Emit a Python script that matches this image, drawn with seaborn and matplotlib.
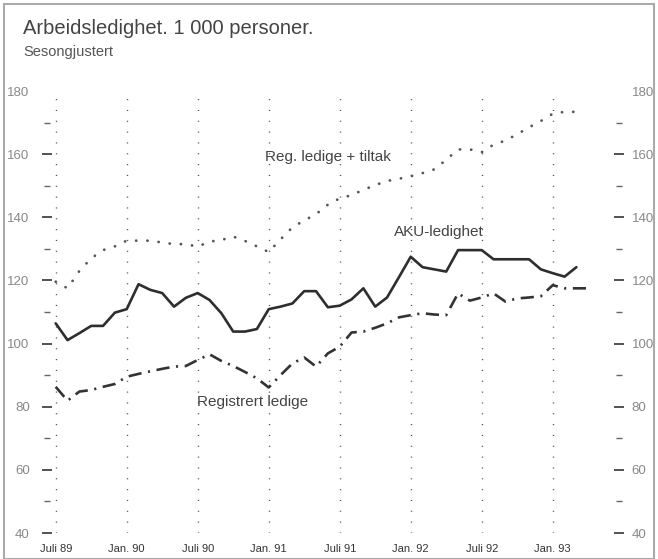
import matplotlib
matplotlib.use("Agg")
import matplotlib.pyplot as plt
import matplotlib.patches as mpatches
import matplotlib.transforms as mtransforms
import seaborn as sns
import pandas as pd
import numpy as np

# ---- data (monthly, from July 1989) ----
aku = [106.4, 101.1, 103.3, 105.6, 105.6, 109.8, 110.9, 118.8, 117.0, 116.0,
       111.7, 114.5, 116.0, 113.8, 109.6, 103.8, 103.8, 104.6, 110.9, 111.7,
       112.7, 116.6, 116.6, 111.5, 112.0, 114.0, 117.5, 111.7, 114.6, 121.0,
       127.5, 124.2, 123.5, 122.8, 129.6, 129.6, 129.6, 126.7, 126.7, 126.7,
       126.7, 123.5, 122.3, 121.2, 124.2]
registrert = [86.3, 81.9, 84.8, 85.3, 86.3, 87.2, 89.5, 90.4, 91.2, 92.0,
              92.7, 92.9, 94.8, 96.6, 94.5, 92.9, 91.0, 89.0, 86.1, 90.0,
              93.7, 95.6, 92.7, 96.9, 99.0, 103.5, 103.8, 105.0, 106.4, 108.3,
              109.0, 109.6, 109.2, 109.0, 115.9, 113.6, 114.6, 115.9, 113.3, 114.3,
              114.6, 115.0, 118.5, 117.5, 117.5, 117.5]
tiltak = [119.6, 117.5, 123.0, 127.0, 129.6, 130.8, 132.6, 132.6, 132.6, 132.0,
          131.5, 131.5, 130.7, 132.3, 132.8, 133.9, 132.5, 130.8, 129.0, 133.0,
          136.8, 139.0, 141.0, 144.0, 146.0, 147.0, 148.7, 150.2, 151.5, 152.2,
          153.0, 154.0, 155.2, 158.2, 161.5, 161.5, 160.6, 163.0, 164.3, 166.3,
          168.5, 170.5, 172.8, 173.4, 173.4]
tick_labels = ["Juli 89", "Jan. 90", "Juli 90", "Jan. 91", "Juli 91",
               "Jan. 92", "Juli 92", "Jan. 93"]
y_ticks = [40, 60, 80, 100, 120, 140, 160, 180]
y_minor = [50, 70, 90, 110, 130, 150, 170]

df_aku = pd.DataFrame({"m": np.arange(len(aku)), "v": aku})
df_reg = pd.DataFrame({"m": np.arange(len(registrert)), "v": registrert})
df_tilt = pd.DataFrame({"m": np.arange(len(tiltak)), "v": tiltak})

sns.set_style("white")
plt.rcParams["font.family"] = ["Liberation Sans", "DejaVu Sans"]

W, H = 658, 559
fig = plt.figure(figsize=(W / 100, H / 100), dpi=100)
ax = fig.add_axes([47 / W, 26 / H, 572 / W, 442 / H])

# vertical dotted gridlines
for k in range(0, 43, 6):
    ax.axvline(k, color="#555555", lw=1.0, ls=(0, (0.8, 7)), zorder=1)

sns.lineplot(data=df_tilt, x="m", y="v", ax=ax, color="#555555", lw=2.0,
             linestyle=(0, (0.05, 4.0)), zorder=3)
ax.lines[-1].set_dash_capstyle("round")
sns.lineplot(data=df_aku, x="m", y="v", ax=ax, color="#2e2e2e", lw=1.9, zorder=4)
sns.lineplot(data=df_reg, x="m", y="v", ax=ax, color="#333333", lw=1.9,
             linestyle=(0, (5, 2.5, 0.8, 2.5)), zorder=4)

ax.set_xlim(-0.735, 47.6)
ax.set_ylim(40, 180)
ax.set_xlabel("")
ax.set_ylabel("")
for s in ax.spines.values():
    s.set_visible(False)

ax.set_xticks(range(0, 43, 6))
ax.set_xticklabels(tick_labels, fontfamily=["Liberation Sans Narrow", "Liberation Sans"],
                   fontsize=8, color="#333333")
ax.tick_params(axis="x", length=0, pad=8)

ax.set_yticks(y_ticks)
ax.set_yticks(y_minor, minor=True)
ax.yaxis.set_ticks_position("both")
ax.tick_params(axis="y", which="major", direction="inout", length=7, width=1.3,
               color="#444444", labelleft=True, labelright=True,
               labelsize=9.5, labelcolor="#888888", pad=9)
ax.tick_params(axis="y", which="minor", direction="inout", length=4, width=1.0,
               color="#666666")
shift = mtransforms.ScaledTranslation(-4.5 / 100, 0, fig.dpi_scale_trans)
for t in ax.yaxis.get_major_ticks():
    t.label2.set_transform(t.label2.get_transform() + shift)
    if t.get_loc() in (40, 180):
        t.tick1line.set_visible(False)
        t.tick2line.set_visible(False)

# annotations
ax.text(23.0, 159.0, "Reg. ledige + tiltak", fontsize=11, color="#444444",
        ha="center", va="center")
ax.text(32.4, 135.3, "AKU-ledighet", fontsize=11, color="#444444",
        ha="center", va="center")
ax.text(16.6, 81.5, "Registrert ledige", fontsize=11, color="#444444",
        ha="center", va="center")

fig.text(23 / W, 1 - 28 / H, "Arbeidsledighet. 1 000 personer.", fontsize=14.5,
         color="#444444", ha="left", va="center")
fig.text(23 / W, 1 - 52 / H, "Sesongjustert", fontsize=10.5,
         color="#555555", ha="left", va="center")

# outer frame
fig.patches.append(mpatches.Rectangle((4 / W, 0), (W - 8) / W, 1 - 4 / H,
                                      transform=fig.transFigure, fill=False,
                                      edgecolor="#aaaaaa", lw=1.5))

fig.savefig("out.png", dpi=100)
